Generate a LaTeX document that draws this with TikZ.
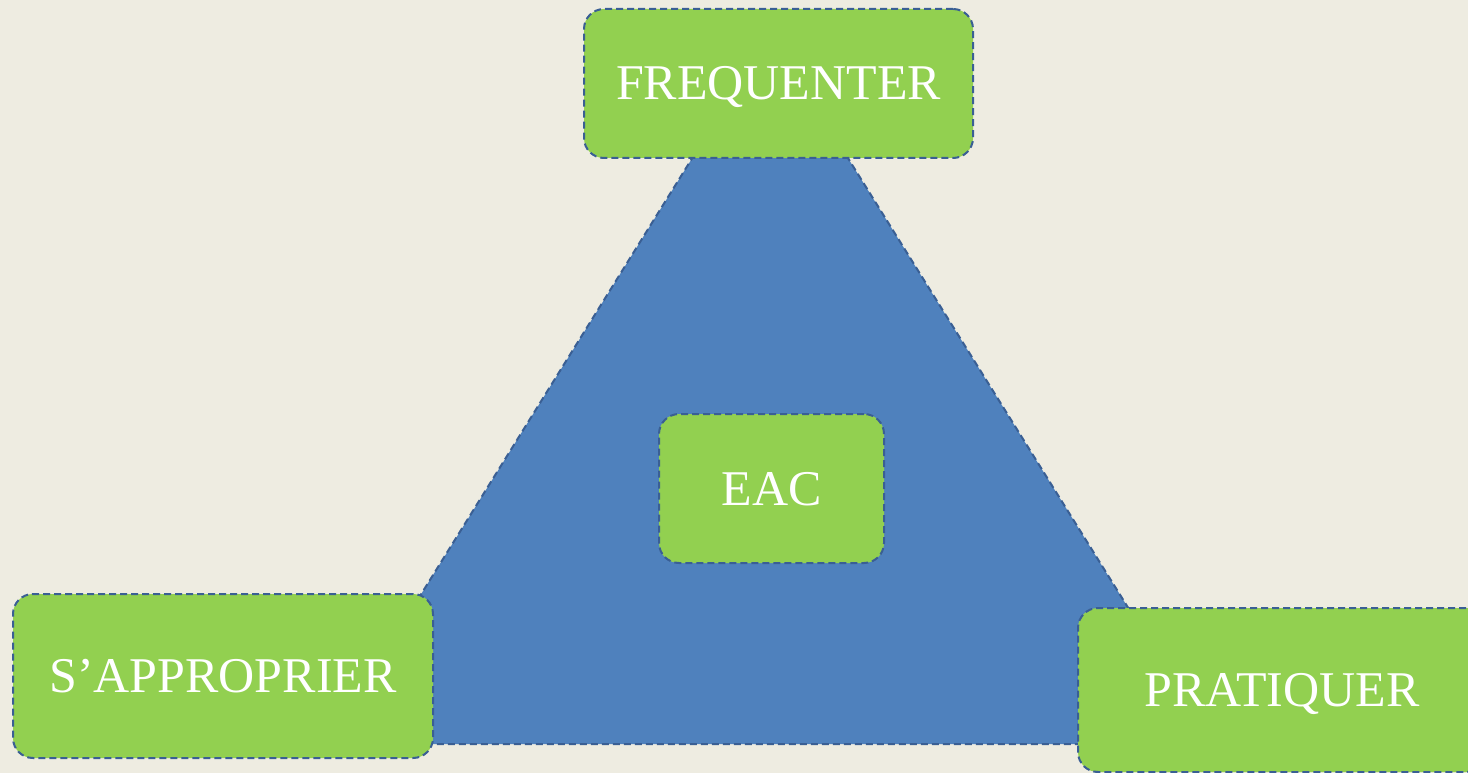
\documentclass[tikz,border=0pt]{standalone}
\usepackage{fontspec}
\setmainfont{Liberation Serif}
\usepackage{xcolor}
\usetikzlibrary{shapes}
\definecolor{slidebg}{HTML}{EEECE1}
\definecolor{boxgreen}{HTML}{92D050}
\definecolor{trianglefill}{HTML}{4F81BD}
\definecolor{dashblue}{HTML}{3A5F94}
\tikzstyle{dashedge}=[draw=dashblue, line width=2pt, dash pattern=on 7pt off 4pt]
\tikzstyle{greenbox}=[dashedge, fill=boxgreen, rounded corners=20pt, text=white, inner sep=0pt, text height=33pt, text depth=0pt, font=\fontsize{50}{60}\selectfont]

\begin{document}
\begin{tikzpicture}[x=1pt,y=-1pt]
	\fill[slidebg] (0,0) rectangle (1468,773);
	\useasboundingbox (0,0) rectangle (1468,773);
	% triangle behind the boxes
	\coordinate (apex) at (770,33);
	\coordinate (leftfoot) at (328,744);
	\coordinate (rightfoot) at (1213,744);
	\draw[dashedge, fill=trianglefill] (apex) -- (leftfoot) -- (rightfoot) -- cycle;
	% boxes
	\node[greenbox, minimum width=389pt, minimum height=149pt] (frequenter) at (778.5,83.5) {FREQUENTER};
	\node[greenbox, minimum width=225pt, minimum height=149pt] (eac) at (771.5,488.5) {EAC};
	\node[greenbox, minimum width=420pt, minimum height=164pt] (approprier) at (223,676) {S’APPROPRIER};
	\node[greenbox, minimum width=408pt, minimum height=164pt] (pratiquer) at (1282,690) {PRATIQUER};
\end{tikzpicture}
\end{document}
